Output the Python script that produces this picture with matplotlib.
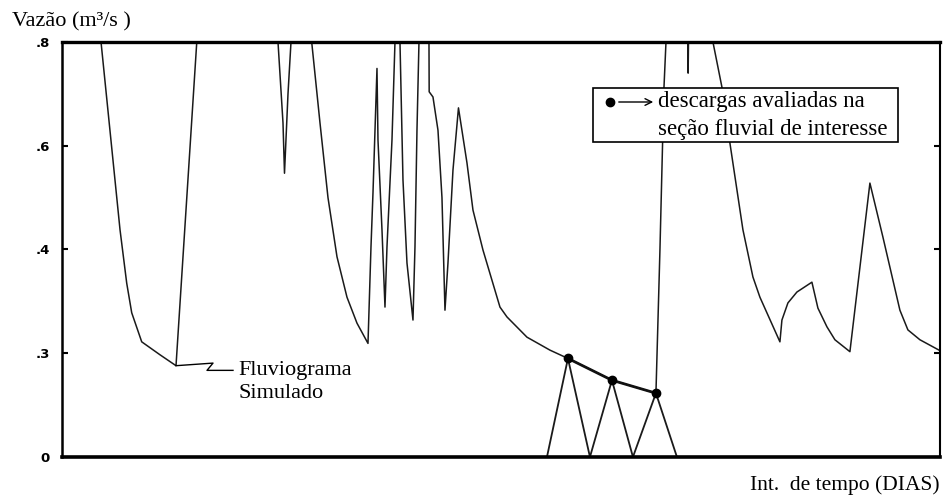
import numpy as np
import matplotlib
matplotlib.use('Agg')
import matplotlib.pyplot as plt
from matplotlib.patches import Rectangle, FancyArrowPatch

plt.rcParams['font.family'] = ['Liberation Serif', 'DejaVu Serif']

# simulated hydrograph (time step, discharge m3/s); values above .8 run off the top
t_sim = [2.8, 3.9, 5.8, 6.47, 6.97, 7.97, 9.8, 11.4, 13.47, 13.8,
         21.3, 21.6, 22.1, 22.25, 22.6, 22.9, 23.1,
         24.7, 24.97, 25.8, 26.6, 27.5, 28.5, 29.5, 30.6, 30.9, 31.1, 31.5,
         31.6, 32.0, 32.3, 32.5, 33.0, 33.3, 33.4,
         33.6, 33.8, 34.1, 34.5, 35.1, 35.3, 35.5, 35.7, 35.85,
         36.6, 36.7, 36.72, 37.1, 37.6, 38.0, 38.3, 38.6, 39.1, 39.65,
         40.5, 41.1, 42.1, 43.8, 44.5, 46.5, 48.8, 50.6, 55.0, 59.4,
         59.8, 60.2, 60.4, 60.5,
         62.5, 62.6, 62.62, 62.7,
         64.9, 65.1, 66.0, 66.8, 68.1, 69.1, 69.8, 71.8, 72.0, 72.6, 73.5,
         75.0, 75.6, 76.5, 77.3, 78.8, 80.8, 82.1, 83.8, 84.6, 85.8, 88.0]
q_sim = [0.98, 0.80, 0.438, 0.335, 0.278, 0.222, 0.197, 0.176, 0.798, 0.88,
         0.88, 0.80, 0.644, 0.547, 0.70, 0.80, 0.88,
         0.88, 0.80, 0.644, 0.50, 0.386, 0.308, 0.258, 0.219, 0.405, 0.509, 0.749,
         0.611, 0.438, 0.289, 0.405, 0.611, 0.80, 0.88,
         0.88, 0.80, 0.534, 0.374, 0.264, 0.405, 0.63, 0.80, 0.88,
         0.88, 0.80, 0.704, 0.694, 0.63, 0.50, 0.283, 0.374, 0.553, 0.673,
         0.567, 0.476, 0.399, 0.289, 0.270, 0.231, 0.206, 0.190, 0.148, 0.123,
         0.399, 0.711, 0.798, 0.88,
         0.88, 0.80, 0.74, 0.88,
         0.88, 0.80, 0.713, 0.605, 0.438, 0.347, 0.308, 0.222, 0.264, 0.297, 0.318,
         0.337, 0.287, 0.251, 0.226, 0.203, 0.528, 0.424, 0.283, 0.245, 0.226, 0.203]

# discharges evaluated at the river section
t_desc = [50.6, 55.0, 59.4]
q_desc = [0.190, 0.148, 0.123]

# triangular pulses under each evaluated discharge
t_tri = [48.5, 50.6, 52.8, 55.0, 57.1, 59.4, 61.5]
q_tri = [0.0, 0.190, 0.0, 0.148, 0.0, 0.123, 0.0]

yticks = [0.0, 0.2, 0.4, 0.6, 0.8]
ytick_labels = ['0', '.3', '.4', '.6', '.8']

fig = plt.figure(figsize=(9.47, 4.97), dpi=100)
ax = fig.add_axes([0.0655, 0.0805, 0.927, 0.835])

ax.plot(t_sim, q_sim, color='#1a1a1a', lw=1.1)
# recession stretch through the evaluated points drawn heavier
ax.plot(t_desc, q_desc, color='#111111', lw=2.0)
ax.plot(t_tri, q_tri, color='#1a1a1a', lw=1.3)
ax.plot(t_desc, q_desc, 'o', color='black', ms=6)

ax.set_xlim(0, 87.8)
ax.set_ylim(0, 0.8)
ax.set_xticks([])
ax.set_yticks(yticks)
ax.set_yticklabels(ytick_labels, fontfamily='DejaVu Sans', fontweight='bold', fontsize=9.5)
ax.tick_params(axis='y', direction='in', length=4, width=1.5, pad=9, right=True)

for side, lw in [('top', 2.4), ('bottom', 2.6), ('left', 1.8), ('right', 1.5)]:
    ax.spines[side].set_linewidth(lw)
    ax.spines[side].set_color('black')

fig.text(12, 475, 'Vazão (m³/s )', transform=None, fontsize=16, va='center', ha='left')
fig.text(940, 12, 'Int.  de tempo (DIAS)', transform=None, fontsize=15.5, va='center', ha='right')

# leader line to the curve label
ax.plot([11.4, 15.1, 14.5, 17.1], [0.176, 0.181, 0.167, 0.167],
        color='black', lw=1.0, clip_on=False)
ax.text(17.6, 0.185, 'Fluviograma\nSimulado', fontsize=16, va='top', ha='left',
        linespacing=1.3)

# key for the evaluated discharges
box = Rectangle((593, 497 - 142), 305, 54, transform=None, fill=True,
                facecolor='white', edgecolor='black', lw=1.2, zorder=5)
fig.patches.append(box)
fig.lines.append(plt.Line2D([610], [497 - 102], transform=None, marker='o',
                            color='black', ms=6, zorder=6))
arrow = FancyArrowPatch((616, 497 - 102), (656, 497 - 102), transform=None,
                        arrowstyle='->', mutation_scale=12, lw=1.0,
                        color='black', zorder=6)
fig.patches.append(arrow)
fig.text(658, 497 - 102, 'descargas avaliadas na', transform=None, fontsize=16.5,
         va='center', ha='left', zorder=7)
fig.text(658, 497 - 129, 'seção fluvial de interesse', transform=None, fontsize=16.5,
         va='center', ha='left', zorder=7)

fig.savefig('out.png', dpi=100)
